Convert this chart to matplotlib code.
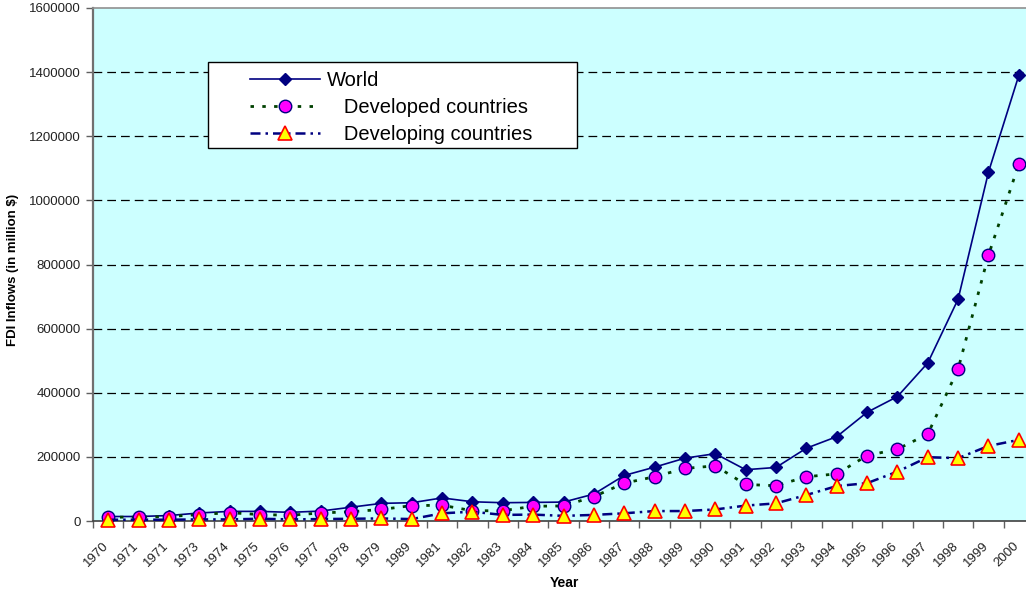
import numpy as np
import matplotlib.pyplot as plt
from matplotlib.patches import Rectangle
from matplotlib.transforms import ScaledTranslation

# category labels as printed on the original chart (typos included)
years = ['1970', '1971', '1971', '1973', '1974', '1975', '1976', '1977', '1978', '1979',
         '1989', '1981', '1982', '1983', '1984', '1985', '1986', '1987', '1988', '1989',
         '1990', '1991', '1992', '1993', '1994', '1995', '1996', '1997', '1998', '1999', '2000']

# FDI inflows, million $
world = [14000, 14000, 17000, 25000, 30000, 30000, 27000, 31000, 43000, 55000,
         57000, 72000, 60000, 57000, 58000, 59000, 84000, 142000, 168000, 196000,
         210000, 160000, 167000, 227000, 263000, 339000, 388000, 493000, 692000, 1088000, 1390000]
developed = [12000, 12000, 14000, 20000, 26000, 20000, 18000, 25000, 29000, 36000,
             48000, 49000, 32000, 32000, 46000, 47000, 76000, 118000, 138000, 164000,
             172000, 114000, 110000, 138000, 147000, 204000, 224000, 271000, 474000, 829000, 1113000]
developing = [4000, 4000, 4000, 5000, 5000, 7000, 5000, 6000, 7000, 8000,
              6000, 24000, 29000, 19000, 20000, 16000, 19000, 24000, 31000, 31000,
              36000, 48000, 55000, 81000, 109000, 118000, 154000, 199000, 196000, 234000, 253000]

plt.rcParams['font.family'] = ['Liberation Sans', 'DejaVu Sans']

W, H = 1026, 593
fig = plt.figure(figsize=(W / 100, H / 100), dpi=100)
ax = fig.add_axes([93 / W, (H - 521) / H, 941 / W, 513 / H])
ax.set_facecolor('#ccffff')

x = np.arange(len(years))
ax.plot(x, world, color='#000080', lw=1.2, marker='D', ms=6.3,
        mfc='#000080', mec='#000080', label='World', clip_on=False, zorder=3)
ax.plot(x, developed, color='#004000', lw=2, dashes=(1.25, 3.0), marker='o', ms=9,
        mfc='#ff00ff', mec='#000080', mew=1, label='   Developed countries',
        clip_on=False, zorder=3)
ax.plot(x, developing, color='#000080', lw=1.8, dashes=(4, 2, 1, 2), marker='^', ms=9.5,
        mfc='#ffff00', mec='#ff0000', mew=1.2, label='   Developing countries',
        clip_on=False, zorder=3)

ax.set_xlim(-0.5, len(years) - 0.5)
ax.set_ylim(0, 1600000)
ax.set_yticks(np.arange(0, 1600001, 200000))
ax.set_yticklabels([str(v) for v in range(0, 1600001, 200000)])
ax.yaxis.grid(True, color='black', linestyle=(0, (7, 4)), lw=0.9)
ax.set_axisbelow(True)
gl = ax.get_ygridlines()
gl[0].set_visible(False)
gl[-1].set_visible(False)

ax.set_xticks(x)
ax.set_xticklabels(years, rotation=45, ha='right', va='top', rotation_mode='anchor')
ax.set_xticks(np.arange(-0.5, len(years), 1), minor=True)
ax.tick_params(axis='x', which='major', length=0, pad=9, labelsize=9.5, labelcolor='#222222')
ax.tick_params(axis='x', which='minor', length=5, direction='out', color='#606060', width=1)
ax.tick_params(axis='y', length=5, direction='out', color='#606060', width=1,
               pad=4, labelsize=9.5, labelcolor='#222222')
shift = ScaledTranslation(-6 / 100, -6 / 100, fig.dpi_scale_trans)
for lab in ax.get_xticklabels():
    lab.set_transform(lab.get_transform() + shift)

ax.spines['left'].set_color('#707070')
ax.spines['left'].set_linewidth(1.6)
ax.spines['bottom'].set_color('#404040')
ax.spines['bottom'].set_linewidth(1.2)
ax.spines['top'].set_color('#909090')
ax.spines['top'].set_linewidth(1.2)
ax.spines['right'].set_visible(False)

# legend box
ax.add_patch(Rectangle((208 / W, 1 - 148 / H), 369 / W, 86 / H, transform=fig.transFigure,
                       facecolor='white', edgecolor='black', lw=1, zorder=4))
ax.set_xlim(-0.5, len(years) - 0.5)
ax.set_ylim(0, 1600000)
leg = ax.legend(loc='upper left', bbox_to_anchor=(250 / W, 1 - 71 / H),
                bbox_transform=fig.transFigure, frameon=False, borderpad=0,
                borderaxespad=0, handlelength=3.5, handletextpad=0.3,
                labelspacing=0.4, fontsize=14.5, numpoints=1)
leg.set_zorder(5)

fig.text(13.5 / W, 1 - 270 / H, 'FDI Inflows (in million $)', rotation=90,
         ha='center', va='center', fontsize=9.5, fontweight='bold')
fig.text(564 / W, 1 - 583 / H, 'Year', ha='center', va='center',
         fontsize=10, fontweight='bold')

plt.savefig('out.png', dpi=100)
